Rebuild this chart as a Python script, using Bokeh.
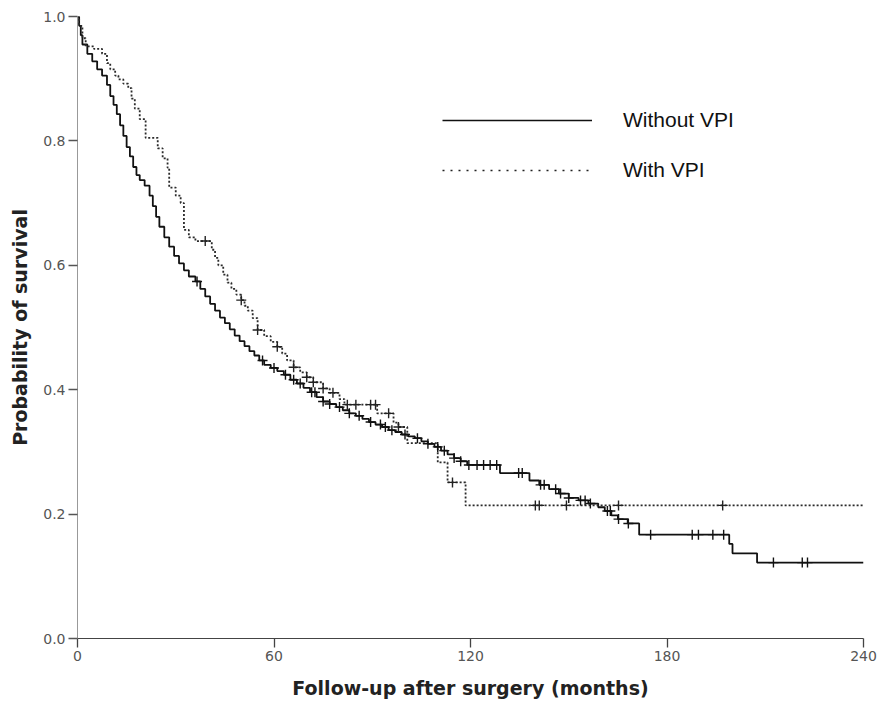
import numpy as np
from bokeh.plotting import figure
from bokeh.models import Range1d, FixedTicker, Legend, LegendItem, ColumnDataSource, PrintfTickFormatter
from bokeh.embed import file_html
from bokeh.resources import INLINE

# ---- Data ----
x_ticks = [0, 60, 120, 180, 240]
y_ticks = [0.0, 0.2, 0.4, 0.6, 0.8, 1.0]

without_vpi_time = [0, 0.5, 1, 1.5, 3, 4.5, 6, 7.5, 9, 10, 11, 12, 13, 14, 15, 16, 17, 18, 19,
                    20.5, 22, 23, 24, 25, 26.5, 28, 29.5, 31, 32.5, 34, 36, 37.5, 39, 40.5, 42,
                    43.5, 45, 46.5, 48, 49.5, 51, 52.5, 54, 55.5, 57, 59, 61, 63, 65, 67, 69, 71,
                    73, 75, 77, 79, 81, 83, 85, 87, 89, 91, 93, 95, 97, 99, 101, 103, 105, 107,
                    109, 111, 113, 115, 117, 119, 129, 138, 141, 144, 147, 150, 153, 156, 159,
                    161, 163, 165, 168, 171.5, 199, 200, 207.5, 240]
without_vpi_surv = [1.0, 0.985, 0.97, 0.955, 0.94, 0.928, 0.915, 0.905, 0.89, 0.872, 0.858, 0.843,
                    0.825, 0.808, 0.79, 0.775, 0.758, 0.745, 0.737, 0.728, 0.712, 0.695, 0.678,
                    0.662, 0.645, 0.63, 0.615, 0.603, 0.592, 0.582, 0.574, 0.562, 0.55, 0.538,
                    0.527, 0.516, 0.507, 0.497, 0.487, 0.478, 0.47, 0.462, 0.455, 0.447, 0.44,
                    0.435, 0.43, 0.424, 0.416, 0.41, 0.403, 0.396, 0.388, 0.381, 0.377, 0.372,
                    0.367, 0.362, 0.358, 0.353, 0.348, 0.344, 0.34, 0.335, 0.332, 0.328, 0.325,
                    0.322, 0.317, 0.313, 0.308, 0.302, 0.296, 0.29, 0.285, 0.279, 0.266, 0.254,
                    0.247, 0.24, 0.233, 0.226, 0.222, 0.217, 0.211, 0.205, 0.198, 0.192, 0.185,
                    0.167, 0.152, 0.137, 0.122, 0.122]
without_vpi_censored = [36.5, 56.5, 60, 63.5, 66, 68, 71.5, 72.5, 75, 77, 80, 83, 86, 89.5, 92.5,
                        94, 96, 100, 103.8, 107, 110, 112, 115, 117, 119.5, 122, 124, 126, 128,
                        134.7, 135.8, 141.4, 142.5, 146, 147.5, 150, 153.6, 155, 156.6, 161.8,
                        162.7, 165.2, 168.2, 175, 187.7, 189.6, 194, 197.3, 212.5, 221.3, 222.9]

with_vpi_time = [0, 0.5, 1.5, 2.5, 5, 7.5, 9, 10, 11.5, 12.5, 14, 15.5, 16.5, 17.5, 19, 20.8,
                 24.5, 26, 27.5, 28, 30, 31.5, 32.5, 34, 36, 41, 42, 43, 44.5, 45.8, 47, 48.5,
                 50, 51, 52, 53.5, 55, 57, 59, 61, 62.5, 64, 66, 68, 70, 72, 75, 77, 80, 81.5,
                 91.5, 96.5, 98, 100.7, 110, 113, 118.5, 240]
with_vpi_surv = [1.0, 0.985, 0.965, 0.952, 0.948, 0.94, 0.925, 0.915, 0.905, 0.899, 0.892, 0.885,
                 0.868, 0.852, 0.835, 0.805, 0.788, 0.772, 0.757, 0.725, 0.712, 0.70, 0.657,
                 0.645, 0.639, 0.625, 0.612, 0.6, 0.585, 0.572, 0.562, 0.553, 0.544, 0.535,
                 0.527, 0.515, 0.496, 0.486, 0.477, 0.469, 0.458, 0.447, 0.436, 0.428, 0.42,
                 0.412, 0.402, 0.395, 0.385, 0.376, 0.362, 0.347, 0.34, 0.314, 0.283, 0.251,
                 0.214, 0.214]
with_vpi_censored = [39, 50, 55, 61, 66, 70, 72, 75, 78, 82.4, 85, 89.5, 91, 95, 98, 114.5,
                     139.8, 141, 149.3, 165.2, 197]


def surv_at(times, surv, pts):
    t = np.asarray(times)
    s = np.asarray(surv)
    idx = np.searchsorted(t, np.asarray(pts), side="right") - 1
    return s[idx]


p = figure(width=884, height=709, output_backend="svg", toolbar_location=None,
           x_range=Range1d(0, 240), y_range=Range1d(0, 1.0),
           min_border_left=77, min_border_right=21, min_border_top=16, min_border_bottom=71)
p.outline_line_color = None
p.xgrid.visible = False
p.ygrid.visible = False
p.background_fill_color = "white"
p.border_fill_color = "white"

# curves
r_without = p.step(without_vpi_time, without_vpi_surv, mode="after",
                   line_color="#111111", line_width=1.8)
r_with = p.step(with_vpi_time, with_vpi_surv, mode="after",
                line_color="#2a2a2a", line_width=1.8, line_dash="2 2")

# censoring marks
p.scatter(without_vpi_censored, surv_at(without_vpi_time, without_vpi_surv, without_vpi_censored),
          marker="cross", size=10, line_color="#111111", line_width=1.4)
p.scatter(with_vpi_censored, surv_at(with_vpi_time, with_vpi_surv, with_vpi_censored),
          marker="cross", size=10, line_color="#222222", line_width=1.4)

# legend proxies (drawn nowhere: NaN data)
leg_src = ColumnDataSource(data=dict(x=[np.nan], y=[np.nan]))
proxy_solid = p.line("x", "y", source=leg_src, line_color="#111111", line_width=1.6)
proxy_dot = p.line("x", "y", source=leg_src, line_color="#222222", line_width=1.6,
                   line_dash="2 6")
legend = Legend(items=[LegendItem(label="Without VPI", renderers=[proxy_solid]),
                       LegendItem(label="With VPI", renderers=[proxy_dot])],
                location=(365, 456))
legend.border_line_color = None
legend.background_fill_alpha = 0
legend.padding = 0
legend.margin = 0
legend.glyph_width = 150
legend.glyph_height = 24
legend.label_height = 24
legend.spacing = 26
legend.label_standoff = 31
legend.label_text_font = "Liberation Sans"
legend.label_text_font_size = "21px"
legend.label_text_color = "#111111"
p.add_layout(legend)

# axes
for ax in (p.xaxis[0], p.yaxis[0]):
    ax.major_tick_in = 0
    ax.major_tick_out = 9
    ax.minor_tick_in = 0
    ax.minor_tick_out = 0
    ax.major_label_text_font = "DejaVu Sans"
    ax.major_label_text_font_size = "14px"
    ax.major_label_text_color = "#555555"
    ax.axis_label_text_font = "DejaVu Sans"
    ax.axis_label_text_font_style = "bold"
    ax.axis_label_text_font_size = "19px"
    ax.axis_label_text_color = "#222222"
    ax.major_tick_line_width = 1.3

p.xaxis.ticker = FixedTicker(ticks=x_ticks)
p.yaxis.ticker = FixedTicker(ticks=y_ticks)
p.yaxis.formatter = PrintfTickFormatter(format="%.1f")
p.xaxis.axis_label = "Follow-up after surgery (months)"
p.yaxis.axis_label = "Probability of survival"
p.xaxis.axis_line_color = "#444444"
p.xaxis.major_tick_line_color = "#444444"
p.yaxis.axis_line_color = "#999999"
p.yaxis.major_tick_line_color = "#555555"
p.xaxis.major_label_standoff = 3
p.yaxis.major_label_standoff = 3
p.xaxis.axis_label_standoff = 13
p.yaxis.axis_label_standoff = 9

open("out.html", "w").write(file_html(p, INLINE))
